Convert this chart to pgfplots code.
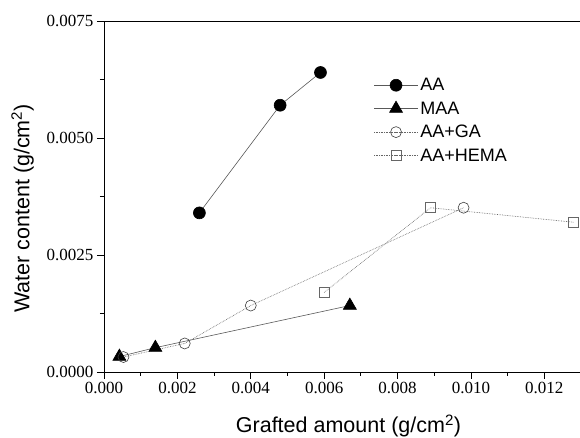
\documentclass[border=0pt]{standalone}
\usepackage{pgfplots}
\pgfplotsset{compat=1.18}
\usepackage{fontspec}
\setmainfont{Liberation Serif}
\newfontfamily\arial{Liberation Sans}
\begin{document}
\begin{tikzpicture}[x=1pt,y=1pt]
\begin{axis}[
  name=ax,
  at={(0,0)},
  scale only axis,
  width=477pt, height=351pt,
  xmin=0, xmax=0.013, ymin=0, ymax=0.0075,
  axis x line*=bottom, axis y line*=left,
  xtick={0,0.002,0.004,0.006,0.008,0.010,0.012},
  ytick={0,0.0025,0.005,0.0075},
  minor x tick num=1, minor y tick num=1,
  tick align=outside,
  major tick length=7pt, minor tick length=4pt,
  tick style={black, line width=0.8pt},
  axis line style={black, line width=0.9pt},
  scaled ticks=false,
  /pgf/number format/assume math mode=true,
  xticklabel style={/pgf/number format/.cd, fixed, fixed zerofill, precision=3},
  yticklabel style={/pgf/number format/.cd, fixed, fixed zerofill, precision=4},
  tick label style={font=\fontsize{17}{17}\selectfont},
  xlabel={\arial Grafted amount (g/cm\textsuperscript{2})},
  ylabel={\arial Water content (g/cm\textsuperscript{2})},
  label style={font=\arial\fontsize{21.5}{21.5}\selectfont},
  xlabel style={yshift=-14pt, xshift=6pt},
  ylabel style={yshift=6pt, xshift=-12pt},
  clip=false,
  legend style={draw=none, fill=none, at={(rel axis cs:0.565,0.843)}, anchor=north west,
    font=\arial\fontsize{18}{18}\selectfont, row sep=5.5pt, inner sep=0pt},
  legend cell align=left,
  legend image code/.code={\draw[mark repeat=2,mark phase=2] plot coordinates {(0pt,0pt)(22pt,0pt)(44pt,0pt)};},
]
\draw[black, line width=0.9pt] (rel axis cs:0,1) -- (rel axis cs:1,1);
\draw[black, line width=0.9pt] (rel axis cs:1,0) -- (rel axis cs:1,1);
\addplot[gray!70!black, line width=0.6pt, mark=*, mark size=6pt, mark options={solid, fill=black, draw=black}]
  coordinates {(0.0026,0.0034) (0.0048,0.0057) (0.0059,0.0064)};
\addlegendentry{AA}
\addplot[gray!70!black, line width=0.6pt, mark=triangle*, mark size=7.5pt, mark options={solid, fill=black, draw=black}]
  coordinates {(0.00042,0.00033) (0.0014,0.00052) (0.0067,0.00142)};
\addlegendentry{MAA}
\addplot[gray!80!black, line width=0.65pt, densely dotted, mark=o, mark size=5.5pt, mark options={solid, fill=white, draw=black!75, line width=0.6pt}]
  coordinates {(0.00053,0.00032) (0.0022,0.00061) (0.0040,0.00142) (0.0098,0.00351)};
\addlegendentry{AA+GA}
\addplot[gray!80!black, line width=0.65pt, densely dotted, mark=square, mark size=5pt, mark options={solid, fill=white, draw=black!60, line width=0.6pt}]
  coordinates {(0.0060,0.0017) (0.0089,0.00351) (0.0128,0.0032)};
\addlegendentry{AA+HEMA}
\end{axis}
\pgfresetboundingbox
\path[use as bounding box] (-104pt,-66pt) rectangle ++(580pt,438pt);
\end{tikzpicture}
\end{document}
